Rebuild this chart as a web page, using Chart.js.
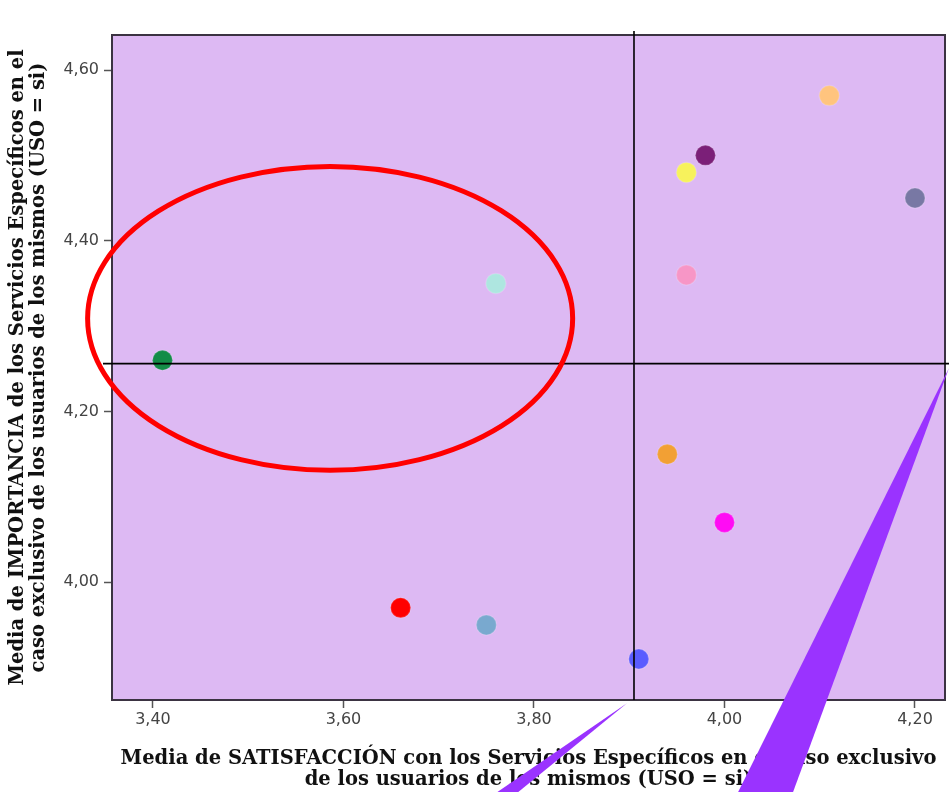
<!DOCTYPE html>
<html>
<head>
<meta charset="utf-8">
<script src="https://cdn.jsdelivr.net/npm/chart.js@4.4.0/dist/chart.umd.min.js"></script>
<style>
  html, body { margin: 0; padding: 0; background: #fff; }
  #wrap { width: 949px; height: 792px; }
</style>
</head>
<body>
<div id="wrap"><canvas id="matrixChart" width="949" height="792"></canvas></div>
<script>
// Values (satisfaction x, importance y)
const satisfaccion = [3.41, 3.76, 4.11, 3.98, 3.96, 4.20, 3.96, 3.94, 4.00, 3.66, 3.75, 3.91];
const importancia  = [4.26, 4.35, 4.57, 4.50, 4.48, 4.45, 4.36, 4.15, 4.07, 3.97, 3.95, 3.91];
const pointColors  = ['#138c47', '#aee6e0', '#ffc47e', '#7b1f78', '#f7f25c', '#7878a4',
                      '#f796c6', '#f2a034', '#ff0cf4', '#ff0000', '#79a9cf', '#5a5cff'];

// Axis ticks and reference (mean) lines
const xTicks = [3.40, 3.60, 3.80, 4.00, 4.20];
const yTicks = [4.00, 4.20, 4.40, 4.60];
const xRange = [3.357, 4.2315];
const yRange = [3.862, 4.641];
const refX = 3.905;
const refY = 4.256;

// Annotation overlays in data units
const ellipse = { cx: 3.586, cy: 4.309, rx: 0.2546, ry: 0.178 };
const wedgeThin = [[3.8976, 3.8582], [3.7612, 3.7539], [3.7832, 3.7539]];
const wedgeWide = [[4.2357, 4.2508], [4.0142, 3.7539], [4.0719, 3.7539]];

const points = satisfaccion.map((x, i) => ({ x: x, y: importancia[i] }));
const fmt = v => Number(v).toFixed(2).replace('.', ',');

// Plot background, reference lines, ellipse and callout wedges
const overlay = {
  id: 'overlay',
  beforeDraw(chart) {
    const { ctx, chartArea: a } = chart;
    ctx.save();
    ctx.fillStyle = '#ddb9f3';
    ctx.fillRect(a.left, a.top, a.right - a.left, a.bottom - a.top);
    ctx.restore();
  },
  afterDatasetsDraw(chart) {
    const { ctx, chartArea: a, scales: { x, y } } = chart;
    ctx.save();
    ctx.strokeStyle = '#3b3342';
    ctx.lineWidth = 2;
    ctx.strokeRect(a.left, a.top, a.right - a.left, a.bottom - a.top);

    ctx.strokeStyle = '#000';
    ctx.lineWidth = 1.6;
    const px = x.getPixelForValue(refX);
    const py = y.getPixelForValue(refY);
    ctx.beginPath();
    ctx.moveTo(px, a.top - 4);
    ctx.lineTo(px, a.bottom);
    ctx.moveTo(a.left - 9, py);
    ctx.lineTo(a.right + 4, py);
    ctx.stroke();
    ctx.restore();
  },
  afterDraw(chart) {
    const { ctx, scales: { x, y } } = chart;
    ctx.save();
    const cx = x.getPixelForValue(ellipse.cx);
    const cy = y.getPixelForValue(ellipse.cy);
    const rx = x.getPixelForValue(ellipse.cx + ellipse.rx) - cx;
    const ry = cy - y.getPixelForValue(ellipse.cy + ellipse.ry);
    ctx.strokeStyle = '#ff0000';
    ctx.lineWidth = 5;
    ctx.beginPath();
    ctx.ellipse(cx, cy, rx, ry, 0, 0, Math.PI * 2);
    ctx.stroke();

    ctx.fillStyle = '#9a33ff';
    [wedgeThin, wedgeWide].forEach(w => {
      ctx.beginPath();
      w.forEach(([vx, vy], i) => {
        const wx = x.getPixelForValue(vx);
        const wy = y.getPixelForValue(vy);
        if (i === 0) ctx.moveTo(wx, wy); else ctx.lineTo(wx, wy);
      });
      ctx.closePath();
      ctx.fill();
    });
    ctx.restore();
  }
};

const ctx = document.getElementById('matrixChart').getContext('2d');
new Chart(ctx, {
  type: 'scatter',
  data: {
    datasets: [{
      data: points,
      pointBackgroundColor: pointColors,
      pointBorderColor: 'rgba(255,255,255,0.15)',
      pointBorderWidth: 1.5,
      pointRadius: 10,
      pointHoverRadius: 10
    }]
  },
  options: {
    responsive: false,
    animation: false,
    layout: { autoPadding: false, padding: { top: 35, right: 4, left: 0, bottom: 0 } },
    plugins: { legend: { display: false }, tooltip: { enabled: false } },
    scales: {
      x: {
        type: 'linear',
        min: xRange[0],
        max: xRange[1],
        afterBuildTicks: s => { s.ticks = xTicks.map(v => ({ value: v })); },
        afterFit: s => { s.height = 92; s.paddingLeft = 0; s.paddingRight = 0; },
        grid: { drawOnChartArea: false, drawTicks: true, tickLength: 8, tickColor: '#555', tickWidth: 1.5 },
        border: { display: true, color: '#3b3342', width: 2 },
        ticks: {
          callback: fmt,
          color: '#444',
          padding: 2,
          font: { family: 'DejaVu Sans', size: 16 }
        },
        title: {
          display: true,
          text: ['Media de SATISFACCIÓN con los Servicios Específicos en el caso exclusivo',
                 'de los usuarios de los mismos (USO = si)'],
          color: '#111',
          padding: { top: 0, bottom: 1.5 },
          font: { family: 'DejaVu Serif', size: 19.5, weight: 'bold', lineHeight: 1.07 }
        }
      },
      y: {
        type: 'linear',
        min: yRange[0],
        max: yRange[1],
        afterBuildTicks: s => { s.ticks = yTicks.map(v => ({ value: v })); },
        afterFit: s => { s.width = 112; s.paddingTop = 0; s.paddingBottom = 0; },
        grid: { drawOnChartArea: false, drawTicks: true, tickLength: 8, tickColor: '#555', tickWidth: 1.5 },
        border: { display: true, color: '#3b3342', width: 2 },
        ticks: {
          callback: fmt,
          color: '#444',
          padding: 5,
          font: { family: 'DejaVu Sans', size: 16 }
        },
        title: {
          display: true,
          text: ['Media de IMPORTANCIA de los Servicios Específicos en el',
                 'caso exclusivo de los usuarios de los mismos (USO = si)'],
          color: '#111',
          padding: { top: 7.5, bottom: 0 },
          font: { family: 'DejaVu Serif', size: 19.5, weight: 'bold', lineHeight: 1.07 }
        }
      }
    }
  },
  plugins: [overlay]
});
</script>
</body>
</html>
